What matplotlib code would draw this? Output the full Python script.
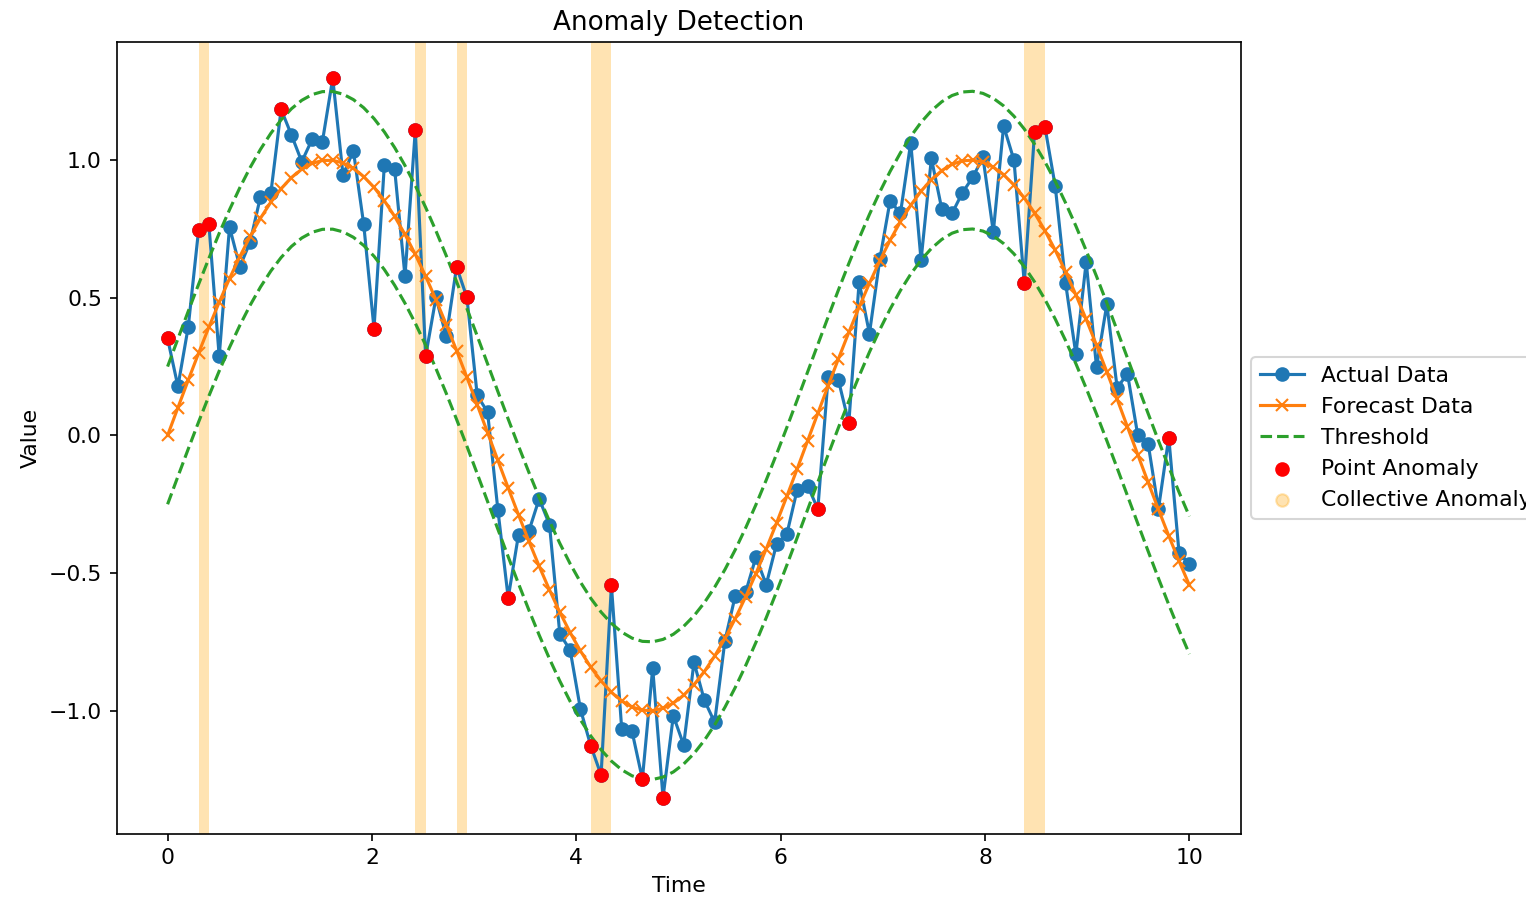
import numpy as np
import matplotlib
matplotlib.use("Agg")
import matplotlib.pyplot as plt

# Data
time = np.linspace(0, 10, 100)
forecast = np.sin(time)
threshold_offset = 0.25
actual = [
    0.352, 0.178, 0.394, 0.745, 0.767, 0.287, 0.757, 0.612, 0.703, 0.867,
    0.879, 1.184, 1.091, 0.994, 1.075, 1.067, 1.297, 0.945, 1.034, 0.767,
    0.388, 0.982, 0.966, 0.578, 1.109, 0.287, 0.501, 0.360, 0.612, 0.501,
    0.145, 0.085, -0.270, -0.590, -0.360, -0.348, -0.230, -0.324, -0.721, -0.779,
    -0.994, -1.127, -1.233, -0.545, -1.067, -1.075, -1.248, -0.845, -1.315, -1.018,
    -1.124, -0.824, -0.961, -1.042, -0.745, -0.582, -0.570, -0.442, -0.542, -0.394,
    -0.358, -0.197, -0.182, -0.267, 0.212, 0.200, 0.045, 0.557, 0.370, 0.639,
    0.852, 0.806, 1.063, 0.636, 1.006, 0.824, 0.806, 0.881, 0.937, 1.010,
    0.739, 1.124, 1.000, 0.554, 1.103, 1.121, 0.905, 0.554, 0.295, 0.630,
    0.248, 0.476, 0.173, 0.224, 0.000, -0.030, -0.267, -0.008, -0.428, -0.467,
]
point_anomaly_idx = [0, 3, 4, 11, 16, 20, 24, 25, 28, 29, 33, 41, 42, 43,
                     46, 48, 63, 66, 83, 84, 85, 97]
collective_runs = [(3, 4), (24, 25), (28, 29), (41, 43), (83, 85)]

actual = np.array(actual)

plt.rcParams['font.size'] = 10.5

fig = plt.figure(figsize=(1526 / 150, 898 / 150), dpi=150)
ax = fig.add_axes([116.5 / 1526, (898 - 833.5) / 898, 1124 / 1526, 791.2 / 898])

ax.plot(time, actual, marker='o', color='tab:blue', label='Actual Data')
ax.plot(time, forecast, marker='x', color='tab:orange', label='Forecast Data')
ax.plot(time, forecast + threshold_offset, linestyle='--', color='tab:green', label='Threshold')
ax.plot(time, forecast - threshold_offset, linestyle='--', color='tab:green')
ax.scatter(time[point_anomaly_idx], actual[point_anomaly_idx], color='red',
           zorder=5, label='Point Anomaly')
for a, b in collective_runs:
    ax.axvspan(time[a], time[b], color='orange', alpha=0.3, linewidth=0)
ax.scatter([], [], color='orange', alpha=0.3, label='Collective Anomaly')

ax.set_title('Anomaly Detection', fontsize=12.6)
ax.set_xlabel('Time')
ax.set_ylabel('Value')
ax.legend(loc='center left', bbox_to_anchor=(1, 0.5))

fig.savefig('out.png', dpi=150)
